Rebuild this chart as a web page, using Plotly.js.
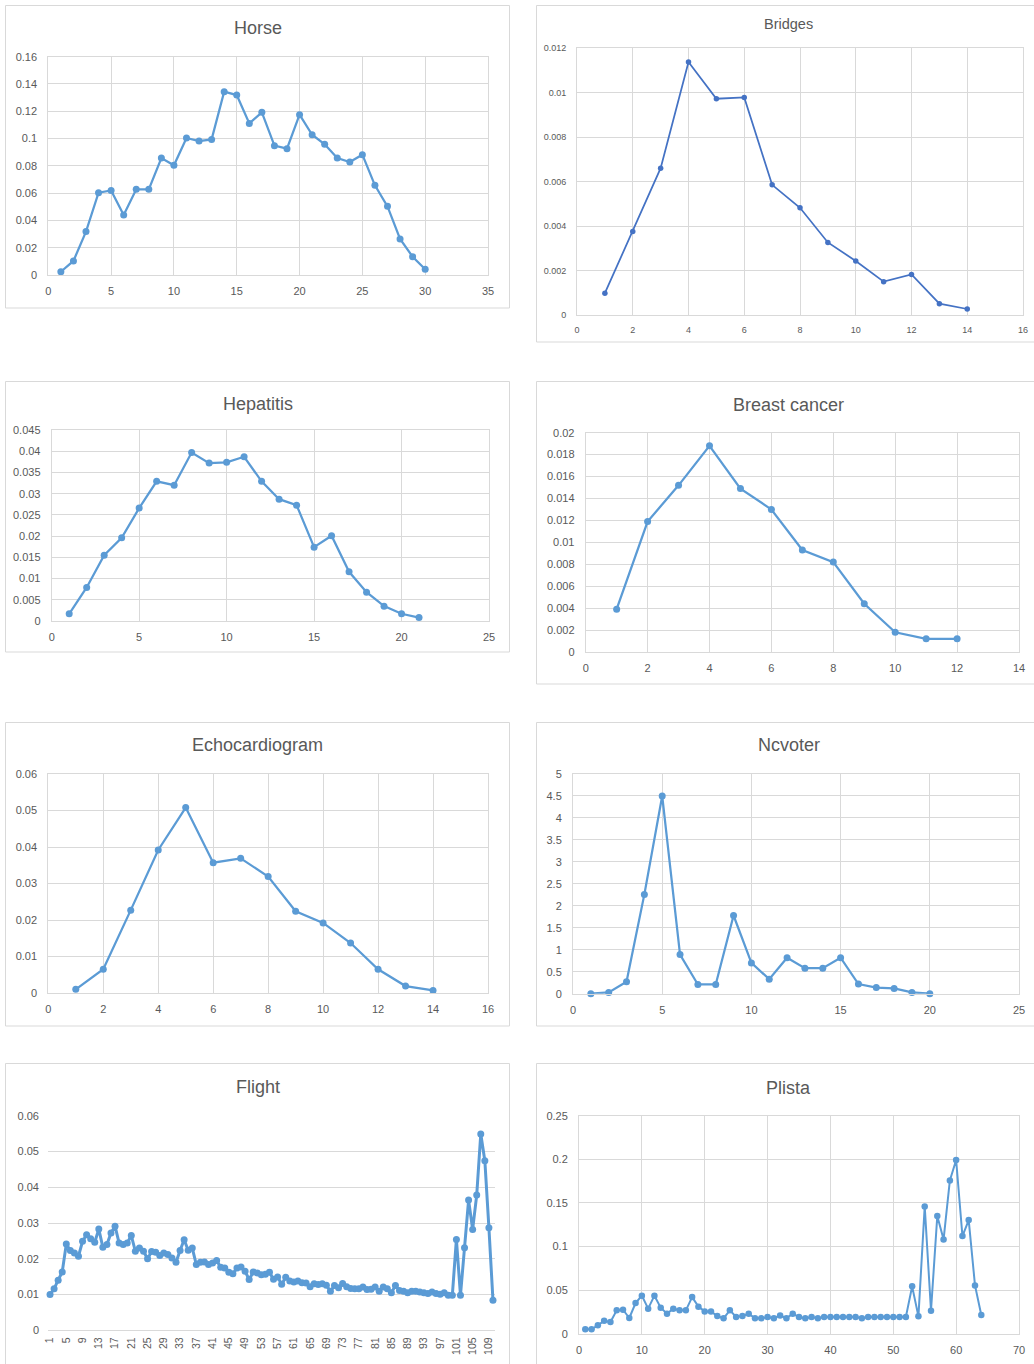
<!DOCTYPE html>
<html>
<head>
<meta charset="utf-8">
<script src="https://cdn.plot.ly/plotly-3.0.1.min.js"></script>
<style>html,body{margin:0;padding:0;background:#fff;}#chart{width:1034px;height:1364px;}</style>
</head>
<body>
<div id="chart"></div>
<script>
// ---------- DATA ----------
const horseX = [1,2,3,4,5,6,7,8,9,10,11,12,13,14,15,16,17,18,19,20,21,22,23,24,25,26,27,28,29,30];
const horseY = [0.0024,0.0103,0.0318,0.0603,0.062,0.044,0.0628,0.0628,0.0857,0.0804,0.1004,0.0982,0.0994,0.1344,0.1319,0.1111,0.1192,0.0948,0.0926,0.1175,0.1028,0.0958,0.0857,0.0828,0.0882,0.0657,0.0503,0.0264,0.0134,0.0042];

const bridgesX = [1,2,3,4,5,6,7,8,9,10,11,12,13,14];
const bridgesY = [0.00098,0.00375,0.0066,0.01137,0.00972,0.00978,0.00585,0.00482,0.00326,0.00243,0.0015,0.00182,0.00051,0.00027];

const hepatitisX = [1,2,3,4,5,6,7,8,9,10,11,12,13,14,15,16,17,18,19,20,21];
const hepatitisY = [0.0017,0.0079,0.0155,0.0196,0.0266,0.0329,0.032,0.0397,0.0372,0.0374,0.0387,0.0329,0.0287,0.0273,0.0174,0.0201,0.0116,0.0068,0.0035,0.0017,0.0008];

const breastX = [1,2,3,4,5,6,7,8,9,10,11,12];
const breastY = [0.0039,0.0119,0.0152,0.0188,0.0149,0.013,0.0093,0.0082,0.0044,0.0018,0.0012,0.0012];

const echoX = [1,2,3,4,5,6,7,8,9,10,11,12,13,14];
const echoY = [0.001,0.0065,0.0227,0.0392,0.0508,0.0357,0.0369,0.0319,0.0224,0.0192,0.0137,0.0065,0.0019,0.0007];

const ncvoterX = [1,2,3,4,5,6,7,8,9,10,11,12,13,14,15,16,17,18,19,20];
const ncvoterY = [0,0.03,0.27,2.26,4.5,0.89,0.21,0.21,1.78,0.7,0.33,0.82,0.58,0.58,0.82,0.22,0.14,0.12,0.03,0];

const flightX = [1,2,3,4,5,6,7,8,9,10,11,12,13,14,15,16,17,18,19,20,21,22,23,24,25,26,27,28,29,30,31,32,33,34,35,36,37,38,39,40,41,42,43,44,45,46,47,48,49,50,51,52,53,54,55,56,57,58,59,60,61,62,63,64,65,66,67,68,69,70,71,72,73,74,75,76,77,78,79,80,81,82,83,84,85,86,87,88,89,90,91,92,93,94,95,96,97,98,99,100,101,102,103,104,105,106,107,108,109,110];
const flightY = [0.010,0.0116,0.014,0.0163,0.0241,0.0223,0.0216,0.0207,0.0249,0.0267,0.0256,0.0246,0.0283,0.0232,0.024,0.0272,0.0291,0.0244,0.024,0.0244,0.0265,0.0221,0.023,0.0221,0.020,0.022,0.0218,0.0209,0.0216,0.0212,0.0202,0.019,0.0223,0.0253,0.0224,0.023,0.0184,0.019,0.0191,0.0184,0.0188,0.0195,0.0176,0.0174,0.0162,0.0158,0.0174,0.0177,0.0165,0.0142,0.0163,0.016,0.0155,0.0157,0.0162,0.0143,0.0149,0.0129,0.0148,0.0138,0.0135,0.0138,0.0133,0.0132,0.0122,0.013,0.0128,0.013,0.0126,0.0109,0.0125,0.0119,0.0131,0.0122,0.0117,0.0116,0.0116,0.0121,0.0114,0.0115,0.0121,0.0109,0.0121,0.0116,0.0105,0.0125,0.0111,0.0109,0.0105,0.0109,0.0109,0.0107,0.0105,0.0103,0.0107,0.0103,0.0101,0.0105,0.0098,0.0098,0.0254,0.0098,0.0231,0.0364,0.0282,0.0378,0.0549,0.0474,0.0287,0.0084];
const flightTicks = [1,5,9,13,17,21,25,29,33,37,41,45,49,53,57,61,65,69,73,77,81,85,89,93,97,101,105,109];

const plistaX = [1,2,3,4,5,6,7,8,9,10,11,12,13,14,15,16,17,18,19,20,21,22,23,24,25,26,27,28,29,30,31,32,33,34,35,36,37,38,39,40,41,42,43,44,45,46,47,48,49,50,51,52,53,54,55,56,57,58,59,60,61,62,63,64];
const plistaY = [0.005,0.005,0.0096,0.0149,0.0134,0.0268,0.0275,0.018,0.0352,0.0436,0.0287,0.0436,0.0298,0.0229,0.0287,0.0268,0.0268,0.042,0.031,0.0256,0.0256,0.0203,0.0176,0.0268,0.0191,0.0203,0.0229,0.0176,0.0176,0.0191,0.0176,0.021,0.0176,0.0229,0.0191,0.0176,0.0191,0.0176,0.0191,0.0191,0.0191,0.0191,0.0191,0.0191,0.0176,0.0191,0.0191,0.0191,0.0191,0.0191,0.0191,0.0191,0.0543,0.0199,0.146,0.0264,0.135,0.108,0.1758,0.1992,0.112,0.1303,0.0554,0.0214];

const titles = ['Horse','Bridges','Hepatitis','Breast cancer','Echocardiogram','Ncvoter','Flight','Plista'];

// ---------- LAYOUT ----------
const W = 1034, H = 1364;
const fx = p => p / W;
const fy = p => 1 - p / H;
const GRID = '#D9D9D9', TXT = '#595959', BLUE = '#5B9BD5', DBLUE = '#4472C4';
const FONT = 'Liberation Sans, Arial, sans-serif';

const panels = [
  {x: horseX, y: horseY, plot: [48.3, 488, 56.7, 275], frame: [5.5, 509.5, 5.5, 308], tc: [257.5, 28], xr: [0, 35], xd: 5, yr: [0, 0.16], yd: 0.02, color: BLUE, lw: 2.25, ms: 7, fs: 11, ts: 18},
  {x: bridgesX, y: bridgesY, plot: [577, 1023, 48, 315], frame: [536.5, 1040, 5.5, 342], tc: [788.5, 24], xr: [0, 16], xd: 2, yr: [0, 0.012], yd: 0.002, color: DBLUE, lw: 1.75, ms: 5.5, fs: 9, ts: 14.5},
  {x: hepatitisX, y: hepatitisY, plot: [51.7, 489, 430, 621], frame: [5.5, 509.5, 381.5, 652], tc: [257.5, 404], xr: [0, 25], xd: 5, yr: [0, 0.045], yd: 0.005, color: BLUE, lw: 2.25, ms: 7, fs: 11, ts: 18},
  {x: breastX, y: breastY, plot: [585.7, 1019, 432.7, 652], frame: [536.5, 1040, 381.5, 684], tc: [788.5, 405], xr: [0, 14], xd: 2, yr: [0, 0.02], yd: 0.002, color: BLUE, lw: 2.25, ms: 7, fs: 11, ts: 18},
  {x: echoX, y: echoY, plot: [48.3, 488, 774, 993], frame: [5.5, 509.5, 722.5, 1026], tc: [257.5, 745], xr: [0, 16], xd: 2, yr: [0, 0.06], yd: 0.01, color: BLUE, lw: 2.25, ms: 7, fs: 11, ts: 18},
  {x: ncvoterX, y: ncvoterY, plot: [573, 1019, 774, 993.7], frame: [536.5, 1040, 722.5, 1026], tc: [788.5, 745], xr: [0, 25], xd: 5, yr: [0, 5], yd: 0.5, color: BLUE, lw: 2.25, ms: 7, fs: 11, ts: 18},
  {x: flightX, y: flightY, plot: [48, 495, 1115.7, 1330.3], frame: [5.5, 509.5, 1063.5, 1380], tc: [257.5, 1087], xr: [0.5, 110.5], xd: null, yr: [0, 0.06], yd: 0.01, color: BLUE, lw: 3, ms: 7, fs: 11, ts: 18, flight: true},
  {x: plistaX, y: plistaY, plot: [579, 1019, 1115.7, 1333.7], frame: [536.5, 1040, 1063.5, 1380], tc: [788.5, 1088], xr: [0, 70], xd: 10, yr: [0, 0.25], yd: 0.05, color: BLUE, lw: 2, ms: 6.5, fs: 11, ts: 18}
];

const data = [];
const layout = {
  width: W, height: H,
  margin: {l: 0, r: 0, t: 0, b: 0},
  paper_bgcolor: '#ffffff', plot_bgcolor: '#ffffff',
  showlegend: false,
  font: {family: FONT, color: TXT},
  shapes: [], annotations: []
};

panels.forEach((p, i) => {
  const n = i === 0 ? '' : String(i + 1);
  data.push({
    type: 'scatter', mode: 'lines+markers',
    x: p.x, y: p.y,
    xaxis: 'x' + n, yaxis: 'y' + n,
    line: {color: p.color, width: p.lw},
    marker: {color: p.color, size: p.ms, symbol: 'circle'},
    hoverinfo: 'x+y', cliponaxis: false
  });
  const xa = {
    domain: [fx(p.plot[0]), fx(p.plot[1])],
    anchor: 'y' + n,
    range: p.xr, autorange: false,
    zeroline: false, fixedrange: true,
    tickfont: {family: FONT, size: p.fs, color: TXT},
    ticks: '', ticklabelstandoff: 6
  };
  const ya = {
    domain: [fy(p.plot[3]), fy(p.plot[2])],
    anchor: 'x' + n,
    range: p.yr, autorange: false,
    dtick: p.yd, tick0: 0,
    zeroline: false, fixedrange: true,
    showgrid: true, gridcolor: GRID, gridwidth: 1,
    tickfont: {family: FONT, size: p.fs, color: TXT},
    ticks: '', ticklabelstandoff: 8
  };
  if (p.flight) {
    Object.assign(xa, {tickmode: 'array', tickvals: flightTicks, ticktext: flightTicks.map(String), tickangle: -90, showgrid: false, showline: false, tickfont: {family: FONT, size: 10.5, color: TXT}, ticklabelstandoff: 4});
    Object.assign(ya, {showline: false, zeroline: true, zerolinecolor: GRID, zerolinewidth: 1});
  } else {
    Object.assign(xa, {dtick: p.xd, tick0: 0, showgrid: true, gridcolor: GRID, gridwidth: 1, showline: true, mirror: true, linecolor: GRID, linewidth: 1});
    Object.assign(ya, {showline: true, mirror: true, linecolor: GRID, linewidth: 1});
  }
  layout['xaxis' + n] = xa;
  layout['yaxis' + n] = ya;

  layout.shapes.push({
    type: 'rect', xref: 'paper', yref: 'paper', layer: 'below',
    x0: fx(p.frame[0]), x1: fx(p.frame[1]), y0: fy(p.frame[3]), y1: fy(p.frame[2]),
    line: {color: GRID, width: 1}, fillcolor: 'rgba(0,0,0,0)'
  });
  layout.annotations.push({
    xref: 'paper', yref: 'paper', x: fx(p.tc[0]), y: fy(p.tc[1]),
    xanchor: 'center', yanchor: 'middle', showarrow: false,
    text: titles[i], font: {family: FONT, size: p.ts, color: TXT}
  });
});

Plotly.newPlot('chart', data, layout, {displayModeBar: false, staticPlot: true});
</script>
</body>
</html>
